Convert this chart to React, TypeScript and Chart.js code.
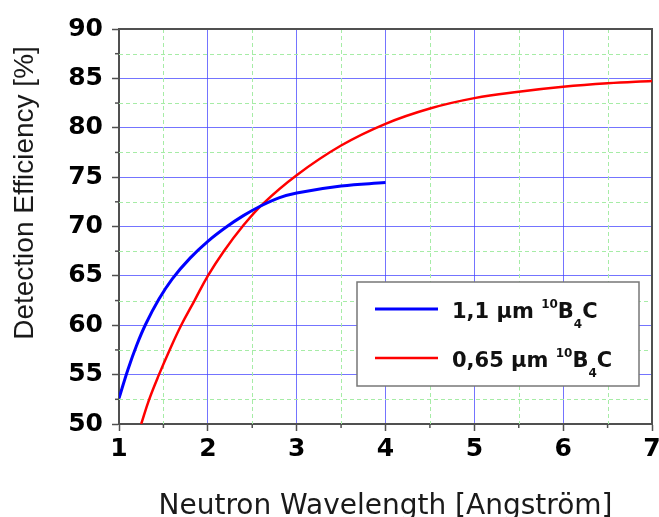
import React, { useEffect, useRef } from "react";
import { Chart, registerables } from "chart.js";

Chart.register(...registerables);

// ---- data ----
const blueX = [1, 1.1, 1.2, 1.3, 1.45, 1.6, 1.8, 2, 2.2, 2.4, 2.6, 2.8, 3, 3.5, 4];
const blueY = [52.6, 55.5, 58.0, 60.1, 62.65, 64.7, 66.8, 68.5, 69.9, 71.1, 72.1, 72.9, 73.4, 74.1, 74.45];

const redX = [1.25, 1.34, 1.45, 1.57, 1.7, 1.85, 2.0, 2.18, 2.39, 2.62, 3, 3.5, 4, 4.5, 5, 5.5, 6, 6.5, 7];
const redY = [50, 52.5, 55, 57.5, 60, 62.5, 65, 67.5, 70, 72.3, 75.2, 78.2, 80.4, 81.95, 83.0, 83.65, 84.15, 84.5, 84.73];

const xTicks = [1, 2, 3, 4, 5, 6, 7];
const yTicks = [50, 55, 60, 65, 70, 75, 80, 85, 90];
const xMinorTicks = [1.5, 2.5, 3.5, 4.5, 5.5, 6.5];
const yMinorTicks = [52.5, 57.5, 62.5, 67.5, 72.5, 77.5, 82.5, 87.5];

const seriesNames = ["1,1 µm ", "0,65 µm "];
const materialSup = "10";
const materialMain = "B";
const materialSub = "4";
const materialEnd = "C";
const xTitle = "Neutron Wavelength [Angström]";
const yTitle = "Detection Efficiency [%]";

const BLUE = "#0000ff";
const RED = "#ff0000";
const GRID_BLUE = "rgba(70,70,255,0.75)";
const GRID_GREEN = "#a6eca6";
const AXIS = "#505050";
const TICKFONT = "'DejaVu Sans', sans-serif";

const decorPlugin = {
  id: "decor",
  beforeDatasetsDraw(chart: any) {
    const { ctx, chartArea } = chart;
    const xs = chart.scales.x;
    const ys = chart.scales.y;
    ctx.save();
    // minor dashed grid
    ctx.strokeStyle = GRID_GREEN;
    ctx.lineWidth = 1;
    ctx.setLineDash([4, 3]);
    xMinorTicks.forEach((v) => {
      const px = Math.round(xs.getPixelForValue(v)) + 0.5;
      ctx.beginPath();
      ctx.moveTo(px, chartArea.top);
      ctx.lineTo(px, chartArea.bottom);
      ctx.stroke();
    });
    yMinorTicks.forEach((v) => {
      const py = Math.round(ys.getPixelForValue(v)) + 0.5;
      ctx.beginPath();
      ctx.moveTo(chartArea.left, py);
      ctx.lineTo(chartArea.right, py);
      ctx.stroke();
    });
    ctx.setLineDash([]);
    // minor ticks
    ctx.strokeStyle = AXIS;
    ctx.lineWidth = 1.5;
    xMinorTicks.forEach((v) => {
      const px = xs.getPixelForValue(v);
      ctx.beginPath();
      ctx.moveTo(px, chartArea.bottom);
      ctx.lineTo(px, chartArea.bottom + 4);
      ctx.stroke();
    });
    yMinorTicks.forEach((v) => {
      const py = ys.getPixelForValue(v);
      ctx.beginPath();
      ctx.moveTo(chartArea.left, py);
      ctx.lineTo(chartArea.left - 4, py);
      ctx.stroke();
    });
    // top and right frame
    ctx.strokeStyle = AXIS;
    ctx.lineWidth = 2;
    ctx.beginPath();
    ctx.moveTo(chartArea.left, chartArea.top);
    ctx.lineTo(chartArea.right, chartArea.top);
    ctx.lineTo(chartArea.right, chartArea.bottom);
    ctx.stroke();
    ctx.restore();
  },
  afterDraw(chart: any) {
    const { ctx, chartArea } = chart;
    ctx.save();
    // axis titles
    ctx.fillStyle = "#1a1a1a";
    ctx.font = "28px 'Liberation Sans', Arial, sans-serif";
    ctx.textAlign = "center";
    ctx.textBaseline = "alphabetic";
    ctx.save();
    ctx.translate(33, 193);
    ctx.rotate(-Math.PI / 2);
    ctx.fillText(yTitle, 0, 0);
    ctx.restore();
    ctx.font = "28px 'DejaVu Sans', sans-serif";
    ctx.fillText(xTitle, (chartArea.left + chartArea.right) / 2, 514);

    // legend
    const bx = 357, by = 282, bw = 282, bh = 104;
    ctx.fillStyle = "#ffffff";
    ctx.fillRect(bx, by, bw, bh);
    ctx.strokeStyle = "#777777";
    ctx.lineWidth = 1.5;
    ctx.strokeRect(bx, by, bw, bh);
    const rows = [
      { color: BLUE, width: 3, lineY: 309, base: 318, name: seriesNames[0] },
      { color: RED, width: 2.5, lineY: 358, base: 367, name: seriesNames[1] },
    ];
    const big = "bold 21px 'DejaVu Sans', sans-serif";
    const small = "bold 12px 'DejaVu Sans', sans-serif";
    rows.forEach((r) => {
      ctx.strokeStyle = r.color;
      ctx.lineWidth = r.width;
      ctx.beginPath();
      ctx.moveTo(375, r.lineY);
      ctx.lineTo(438, r.lineY);
      ctx.stroke();
      ctx.fillStyle = "#111111";
      ctx.textAlign = "left";
      let x = 452;
      ctx.font = big;
      ctx.fillText(r.name, x, r.base);
      x += ctx.measureText(r.name).width;
      ctx.font = small;
      ctx.fillText(materialSup, x, r.base - 10);
      x += ctx.measureText(materialSup).width;
      ctx.font = big;
      ctx.fillText(materialMain, x, r.base);
      x += ctx.measureText(materialMain).width;
      ctx.font = small;
      ctx.fillText(materialSub, x, r.base + 10);
      x += ctx.measureText(materialSub).width;
      ctx.font = big;
      ctx.fillText(materialEnd, x, r.base);
    });
    ctx.restore();
  },
};

export default function App() {
  const ref = useRef<HTMLCanvasElement | null>(null);
  useEffect(() => {
    if (!ref.current) return;
    const chart = new Chart(ref.current, {
      type: "scatter",
      data: {
        datasets: [
          {
            label: seriesNames[0],
            data: blueX.map((x, i) => ({ x, y: blueY[i] })),
            showLine: true,
            borderColor: BLUE,
            backgroundColor: BLUE,
            borderWidth: 3,
            pointRadius: 0,
            tension: 0.4,
          },
          {
            label: seriesNames[1],
            data: redX.map((x, i) => ({ x, y: redY[i] })),
            showLine: true,
            borderColor: RED,
            backgroundColor: RED,
            borderWidth: 2.5,
            pointRadius: 0,
            tension: 0.4,
          },
        ],
      },
      options: {
        animation: false,
        responsive: false,
        layout: { padding: { top: 29, right: 7, left: 0, bottom: 0 } },
        plugins: {
          legend: { display: false },
          tooltip: { enabled: false },
          title: { display: false },
        },
        scales: {
          x: {
            type: "linear",
            min: 1,
            max: 7,
            afterBuildTicks: (s: any) => {
              s.ticks = xTicks.map((v) => ({ value: v }));
            },
            afterFit: (s: any) => {
              s.height = 93;
              s.paddingLeft = 0;
              s.paddingRight = 0;
            },
            ticks: {
              color: "#000",
              font: { family: TICKFONT, size: 25, weight: "bold" },
              padding: 3,
              maxRotation: 0,
              autoSkip: false,
              callback: (v: any) => String(v),
            },
            grid: {
              color: GRID_BLUE,
              lineWidth: 1,
              tickLength: 7,
              tickColor: AXIS,
              tickWidth: 1.5,
            },
            border: { color: AXIS, width: 2 },
          },
          y: {
            type: "linear",
            min: 50,
            max: 90,
            afterBuildTicks: (s: any) => {
              s.ticks = yTicks.map((v) => ({ value: v }));
            },
            afterFit: (s: any) => {
              s.width = 119;
              s.paddingTop = 0;
              s.paddingBottom = 0;
            },
            ticks: {
              color: "#000",
              font: { family: TICKFONT, size: 25, weight: "bold" },
              padding: 9,
              autoSkip: false,
              callback: (v: any) => String(v),
            },
            grid: {
              color: GRID_BLUE,
              lineWidth: 1,
              tickLength: 7,
              tickColor: AXIS,
              tickWidth: 1.5,
            },
            border: { color: AXIS, width: 2 },
          },
        },
      },
      plugins: [decorPlugin],
    });
    return () => chart.destroy();
  }, []);
  return (
    <div style={{ position: "absolute", left: 0, top: 0, width: 659, height: 517, background: "#fff" }}>
      <canvas ref={ref} width={659} height={517} />
    </div>
  );
}
